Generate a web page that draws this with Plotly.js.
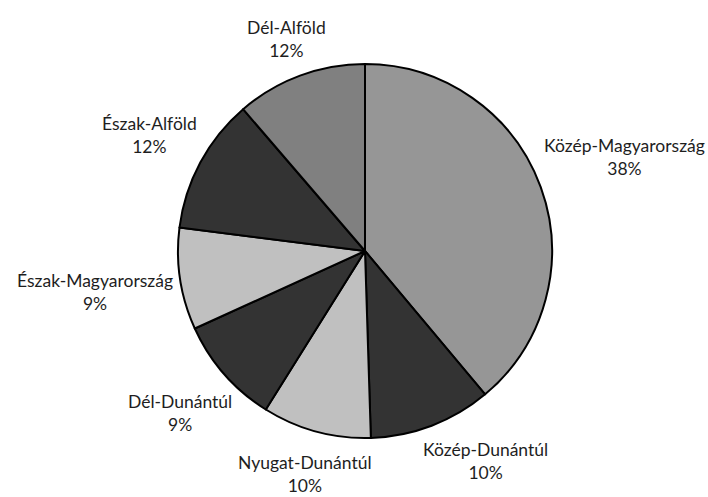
<!DOCTYPE html>
<html>
<head>
<meta charset="utf-8">
<script src="https://cdn.plot.ly/plotly-3.0.1.min.js"></script>
<style>html,body{margin:0;padding:0;background:#fff;}#chart{width:708px;height:497px;}</style>
</head>
<body>
<div id="chart"></div>
<script>
const regions = ["Közép-Magyarország", "Közép-Dunántúl", "Nyugat-Dunántúl", "Dél-Dunántúl", "Észak-Magyarország", "Észak-Alföld", "Dél-Alföld"];
const shares = [38.9, 10.6, 9.4, 9.3, 8.8, 11.7, 11.3];
const shareLabels = ["38%", "10%", "10%", "9%", "9%", "12%", "12%"];
const sliceColors = ["#969696", "#333333", "#c0c0c0", "#333333", "#c0c0c0", "#333333", "#808080"];

const W = 708, H = 497;
const margin = {l: 22, r: 0, t: 64, b: 59};
const fontSize = 17.5;
const fontFamily = "Lato, 'Open Sans', sans-serif";
const labelFont = {family: fontFamily, size: fontSize, color: "#1e1e1e"};

// label placement derived from the slice angles (data) and the pie radius (layout)
const plotW = W - margin.l - margin.r, plotH = H - margin.t - margin.b;
const R = Math.min(plotW, plotH) / 2;
const cx = margin.l + plotW / 2, cy = margin.t + plotH / 2;
const ctx = document.createElement("canvas").getContext("2d");
ctx.font = fontSize + "px " + fontFamily;
const total = shares.reduce((a, b) => a + b, 0);
const pad = 6, gapX = 50, hh = fontSize * 1.2;

function place(angle, hw) {
  const sx = Math.sin(angle), sy = -Math.cos(angle);
  const d = R + pad + hw * Math.abs(sx) + hh * Math.abs(sy);
  return {dx: d * sx, dy: d * sy};
}
function overlaps(a, b) {
  return Math.abs(a.x - b.x) < a.hw + b.hw + gapX && Math.abs(a.y - b.y) < a.hh + b.hh;
}

let cum = 0;
const mids = shares.map(v => { const m = (cum + v / 2) / total * 2 * Math.PI; cum += v; return m; });
const boxes = new Array(regions.length);
const placed = [];
for (let i = regions.length - 1; i >= 0; i--) {
  const hw = Math.max(ctx.measureText(regions[i]).width, ctx.measureText(shareLabels[i]).width) / 2;
  let ang = mids[i];
  let p, box;
  for (let k = 0; k < 60; k++) {
    p = place(ang, hw);
    box = {x: cx + p.dx, y: cy + p.dy, hw: hw, hh: hh, dx: p.dx, dy: p.dy};
    const hit = placed.find(o => overlaps(box, o));
    if (!hit) break;
    ang += (ang < hit.ang ? -1 : 1) * Math.PI / 180;
  }
  box.ang = ang;
  placed.push(box);
  boxes[i] = box;
}

const annotations = regions.map((name, i) => ({
  xref: "paper", yref: "paper", x: 0.5, y: 0.5,
  xshift: boxes[i].dx, yshift: -boxes[i].dy,
  xanchor: "center", yanchor: "middle", align: "center",
  showarrow: false,
  text: name + "<br>" + shareLabels[i],
  font: labelFont
}));

Plotly.newPlot("chart", [{
  type: "pie",
  labels: regions,
  values: shares,
  sort: false,
  direction: "clockwise",
  rotation: 0,
  marker: {colors: sliceColors, line: {color: "#000000", width: 2}},
  textinfo: "none",
  hoverinfo: "none",
  showlegend: false,
  automargin: false
}], {
  width: W, height: H,
  margin: margin,
  paper_bgcolor: "#ffffff",
  plot_bgcolor: "#ffffff",
  showlegend: false,
  annotations: annotations
}, {displayModeBar: false, staticPlot: true});
</script>
</body>
</html>
